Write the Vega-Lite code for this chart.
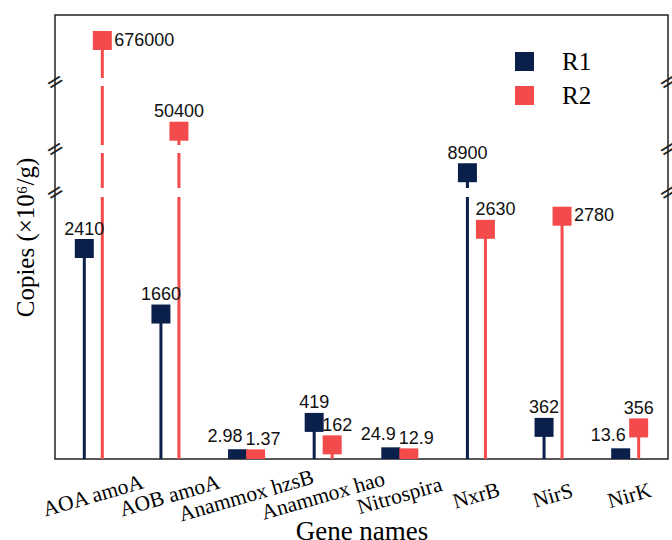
{
  "$schema": "https://vega.github.io/schema/vega-lite/v6.json",
  "width": 613,
  "height": 444,
  "autosize": {"type": "none"},
  "padding": {"left": 55, "top": 15, "right": 4, "bottom": 81},
  "background": "white",
  "config": {
    "view": {"stroke": "#222222", "strokeWidth": 1.5},
    "font": "Liberation Sans"
  },
  "datasets": {
    "main": [
      {"gene": "AOA amoA", "group": "R1", "value": 2410},
      {"gene": "AOA amoA", "group": "R2", "value": 676000},
      {"gene": "AOB amoA", "group": "R1", "value": 1660},
      {"gene": "AOB amoA", "group": "R2", "value": 50400},
      {"gene": "Anammox hzsB", "group": "R1", "value": 2.98},
      {"gene": "Anammox hzsB", "group": "R2", "value": 1.37},
      {"gene": "Anammox hao", "group": "R1", "value": 419},
      {"gene": "Anammox hao", "group": "R2", "value": 162},
      {"gene": "Nitrospira", "group": "R1", "value": 24.9},
      {"gene": "Nitrospira", "group": "R2", "value": 12.9},
      {"gene": "NxrB", "group": "R1", "value": 8900},
      {"gene": "NxrB", "group": "R2", "value": 2630},
      {"gene": "NirS", "group": "R1", "value": 362},
      {"gene": "NirS", "group": "R2", "value": 2780},
      {"gene": "NirK", "group": "R1", "value": 13.6},
      {"gene": "NirK", "group": "R2", "value": 356}
    ],
    "gaps": [
      {"lo": 3000, "hi": 6500},
      {"lo": 12000, "hi": 20000},
      {"lo": 150000, "hi": 200000}
    ],
    "breaks": [
      {"side": 0, "value": 4750},
      {"side": 0, "value": 16000},
      {"side": 0, "value": 175000},
      {"side": 1, "value": 4750},
      {"side": 1, "value": 16000},
      {"side": 1, "value": 175000}
    ]
  },
  "resolve": {"scale": {"x": "independent", "xOffset": "independent"}, "axis": {"x": "independent"}},
  "layer": [
    {
      "data": {"name": "main"},
      "mark": {"type": "rule", "strokeWidth": 3},
      "encoding": {
        "x": {
          "field": "gene", "type": "nominal",
          "scale": {"type": "band", "domain": ["AOA amoA", "AOB amoA", "Anammox hzsB", "Anammox hao", "Nitrospira", "NxrB", "NirS", "NirK"], "paddingInner": 0, "paddingOuter": 0},
          "axis": {
            "title": "Gene names", "titleFont": "Liberation Serif", "titleFontSize": 27,
            "titleFontWeight": "normal", "titleColor": "black",
            "titleY": 80, "titleBaseline": "alphabetic",
            "labelFont": "Liberation Serif", "labelFontSize": 21.5, "labelColor": "black",
            "labelAngle": -16, "labelAlign": "center", "labelBaseline": "middle",
            "labelPadding": 37, "ticks": false, "domain": false
          }
        },
        "xOffset": {"field": "group", "type": "nominal", "scale": {"type": "band", "domain": ["R1", "R2"], "range": [20.3, 56.3], "paddingInner": 0, "paddingOuter": 0}},
        "y": {
          "field": "value", "type": "quantitative",
          "scale": {
            "domain": [0, 3000, 6500, 12000, 20000, 150000, 200000, 1000000],
            "range": [444, 182, 173, 138, 130, 71, 63, 0],
            "nice": false, "zero": false
          },
          "axis": {
            "title": "Copies (×10⁶/g)", "titleFont": "Liberation Serif", "titleFontSize": 25,
            "titleFontWeight": "normal", "titleColor": "black", "titlePadding": 17,
            "labels": false, "ticks": false, "domain": false, "grid": false
          }
        },
        "y2": {"datum": 0},
        "color": {
          "field": "group", "type": "nominal",
          "scale": {"domain": ["R1", "R2"], "range": ["#0b1f4b", "#f34b4b"]},
          "legend": {
            "orient": "none", "legendX": 457, "legendY": 34, "title": null,
            "symbolType": "square", "symbolSize": 361, "symbolStrokeWidth": 0,
            "labelFont": "Liberation Serif", "labelFontSize": 25, "labelColor": "black",
            "rowPadding": 8, "labelOffset": 25, "padding": 0
          }
        }
      }
    },
    {
      "data": {"name": "gaps"},
      "mark": {"type": "rect", "color": "white"},
      "encoding": {
        "x": {"datum": 0.006, "type": "quantitative", "scale": {"domain": [0, 1]}, "axis": null},
        "x2": {"datum": 0.994},
        "y": {"field": "lo", "type": "quantitative"},
        "y2": {"field": "hi"}
      }
    },
    {
      "data": {"name": "main"},
      "encoding": {
        "x": {
          "field": "gene", "type": "nominal",
          "scale": {"type": "band", "domain": ["AOA amoA", "AOB amoA", "Anammox hzsB", "Anammox hao", "Nitrospira", "NxrB", "NirS", "NirK"], "paddingInner": 0, "paddingOuter": 0},
          "axis": null
        },
        "xOffset": {"field": "group", "type": "nominal", "scale": {"type": "band", "domain": ["R1", "R2"], "range": [20.3, 56.3], "paddingInner": 0, "paddingOuter": 0}},
        "y": {"field": "value", "type": "quantitative"},
        "text": {"field": "value", "type": "quantitative", "format": "~g"}
      },
      "layer": [
        {
          "mark": {"type": "square", "size": 361, "filled": true, "opacity": 1, "clip": true},
          "encoding": {"color": {"field": "group", "type": "nominal"}}
        },
        {
          "transform": [{"filter": {"field": "value", "oneOf": [2410, 1660, 50400, 419, 8900, 362, 356]}}],
          "mark": {"type": "text", "fontSize": 18, "color": "#111111", "align": "center", "baseline": "alphabetic", "dy": -14}
        },
        {
          "transform": [{"filter": {"field": "value", "oneOf": [676000, 2780]}}],
          "mark": {"type": "text", "fontSize": 18, "color": "#111111", "align": "left", "baseline": "middle", "dx": 12}
        },
        {
          "transform": [{"filter": {"field": "value", "oneOf": [2630, 162, 1.37, 12.9]}}],
          "mark": {"type": "text", "fontSize": 18, "color": "#111111", "align": "left", "baseline": "alphabetic", "dx": -10, "dy": -14}
        },
        {
          "transform": [{"filter": {"field": "value", "oneOf": [2.98, 24.9, 13.6]}}],
          "mark": {"type": "text", "fontSize": 18, "color": "#111111", "align": "right", "baseline": "alphabetic", "dx": 5, "dy": -17}
        }
      ]
    },
    {
      "data": {"name": "breaks"},
      "mark": {"type": "text", "text": "=", "font": "DejaVu Sans", "fontSize": 22, "angle": -32, "align": "center", "baseline": "middle", "color": "#222222"},
      "encoding": {
        "x": {"field": "side", "type": "quantitative", "scale": {"domain": [0, 1]}, "axis": null},
        "y": {"field": "value", "type": "quantitative"}
      }
    }
  ]
}
